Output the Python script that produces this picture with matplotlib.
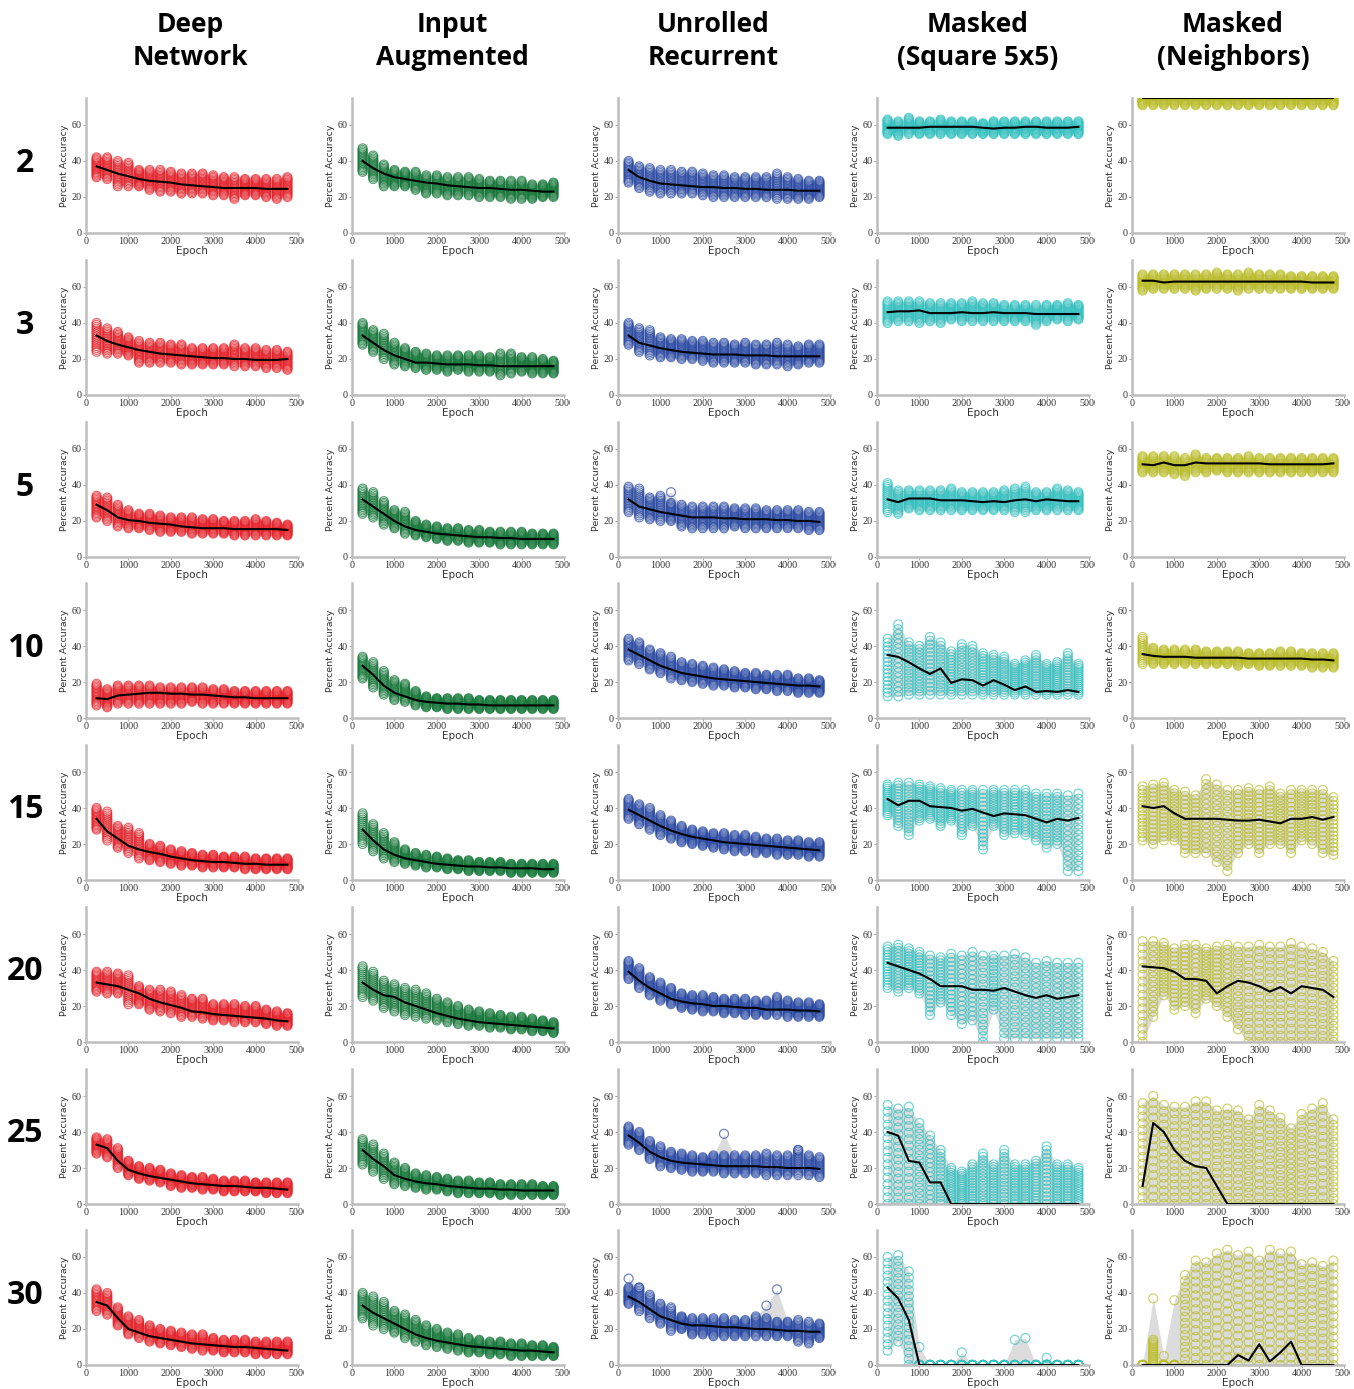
import matplotlib
matplotlib.use("Agg")
import matplotlib.pyplot as plt
from matplotlib.transforms import Bbox, TransformedBbox
import numpy as np

epochs = [250, 500, 750, 1000, 1250, 1500, 1750, 2000, 2250, 2500,
          2750, 3000, 3250, 3500, 3750, 4000, 4250, 4500, 4750]
row_labels = ["2", "3", "5", "10", "15", "20", "25", "30"]
col_titles = ["Deep\nNetwork", "Input\nAugmented", "Unrolled\nRecurrent",
              "Masked\n(Square 5x5)", "Masked\n(Neighbors)"]
col_colors = ["#e8232b", "#16793a", "#2b4ba6", "#33c2c2", "#bcbe27"]
x_ticks = [0, 1000, 2000, 3000, 4000, 5000]
y_ticks = [0, 20, 40, 60]

# ---- Deep Network ----
deep_mean = [
    [37, 35, 33, 31.5, 30, 29, 28.5, 28, 27, 26.5, 26, 25.5, 25, 25, 25, 25, 24.5, 24.5, 24.5],
    [33, 30, 28, 26.5, 25, 24, 23, 22.5, 22, 21.5, 21, 20.5, 20.5, 20, 20, 19.5, 19.5, 19.5, 20],
    [29, 26, 22, 20.5, 20, 19, 18.5, 18, 17, 16.5, 16, 16, 16, 15.5, 15.5, 15.5, 15.5, 15.5, 15],
    [11, 10.5, 12.5, 13, 13.5, 14, 14, 13.5, 13.5, 13, 13, 12.5, 12, 11.5, 11.5, 11, 11, 11, 11],
    [34, 27, 23, 19, 17, 15.5, 14.5, 13, 12, 11, 10.5, 10, 10, 9.5, 9, 9, 8.5, 8.5, 8.5],
    [33, 32, 31, 29, 27, 24, 22, 20.5, 19, 17, 16.5, 15.5, 15, 14.5, 14, 13.5, 13, 12, 11.5],
    [33, 31, 24, 19, 17, 15.5, 14.5, 13.5, 12.5, 11.5, 11, 10.5, 10, 10, 9.5, 9, 9, 8.5, 8],
    [35, 33, 26, 20, 18, 16, 15, 14, 13, 12, 11.5, 11, 10.5, 10, 10, 9.5, 9, 8.5, 8],
]
deep_lo = [
    [31, 30, 26, 26, 26, 24, 23, 23, 22, 22, 22, 21, 21, 19, 21, 21, 20, 19, 20],
    [24, 23, 23, 22, 18, 18, 18, 18, 17, 17, 17, 17, 17, 16, 16, 16, 15, 15, 14],
    [22, 20, 17, 16, 16, 15, 14, 14, 14, 13, 13, 13, 13, 12, 12, 12, 12, 12, 12],
    [7, 6, 8, 8, 8, 8, 8, 8, 8, 9, 8, 8, 8, 8, 8, 8, 8, 8, 8],
    [28, 22, 18, 15, 12, 11, 10, 9, 8, 8, 7, 7, 7, 7, 6, 6, 6, 6, 6],
    [28, 27, 27, 21, 21, 18, 17, 16, 14, 14, 13, 12, 12, 11, 11, 11, 10, 9, 9],
    [28, 26, 20, 16, 14, 13, 12, 10, 9, 9, 8, 8, 7, 7, 7, 7, 6, 6, 6],
    [30, 28, 22, 17, 15, 13, 12, 11, 10, 9, 8, 8, 7, 7, 7, 6, 6, 6, 6],
]
deep_hi = [
    [42, 42, 40, 39, 35, 35, 35, 34, 33, 33, 33, 32, 31, 31, 30, 30, 30, 30, 31],
    [40, 37, 35, 32, 30, 29, 29, 28, 28, 26, 26, 26, 26, 28, 26, 26, 25, 25, 24],
    [34, 33, 29, 26, 24, 24, 23, 22, 22, 22, 21, 21, 20, 20, 20, 21, 20, 19, 18],
    [19, 16, 18, 18, 18, 18, 17, 17, 17, 17, 17, 16, 16, 15, 15, 15, 15, 15, 15],
    [40, 38, 30, 29, 26, 20, 19, 17, 16, 15, 14, 14, 13, 13, 13, 12, 12, 12, 12],
    [39, 39, 38, 37, 31, 29, 29, 28, 26, 24, 24, 21, 21, 21, 20, 20, 18, 17, 16],
    [37, 36, 31, 24, 21, 20, 19, 17, 16, 15, 15, 14, 13, 13, 13, 12, 12, 12, 12],
    [42, 40, 32, 27, 25, 22, 20, 19, 18, 17, 17, 15, 14, 14, 14, 13, 13, 13, 13],
]

# ---- Input Augmented ----
aug_mean = [
    [40, 36, 33, 31, 30, 29, 28, 27.5, 26.5, 26, 25.5, 25, 25, 24.5, 24, 24, 23.5, 23, 23],
    [33, 29, 25, 22, 20, 18, 18, 17.5, 17, 17, 17, 16.5, 16.5, 16, 16, 16, 16, 16, 16],
    [32, 28, 24, 20, 17, 15, 14, 13, 12.5, 12, 11.5, 11, 11, 10.5, 10.5, 10, 10, 10, 10],
    [29, 24, 18, 14, 12, 10, 9, 8.5, 8, 8, 7.5, 7.5, 7, 7, 7, 7, 7, 7, 7],
    [28, 22, 17, 14, 12, 11, 10, 9, 8.5, 8, 7.5, 7.5, 7, 7, 6.5, 6.5, 6.5, 6, 6],
    [33, 29, 26, 25, 22, 20, 18, 16, 14.5, 13, 12, 11, 10.5, 10, 9.5, 9, 8.5, 8, 7.5],
    [30, 25, 21, 16, 14, 12.5, 11.5, 11, 10, 9.5, 9, 8.5, 8.5, 8, 8, 7.5, 7.5, 7.5, 7.5],
    [33, 29, 26, 23, 20, 17, 15, 13.5, 12.5, 11.5, 10.5, 10, 9.5, 9, 8.5, 8, 8, 7.5, 7],
]
aug_lo = [
    [34, 30, 26, 26, 26, 24, 22, 22, 21, 21, 21, 20, 20, 20, 19, 19, 19, 20, 20],
    [28, 24, 20, 17, 16, 15, 14, 14, 13, 14, 13, 13, 13, 11, 12, 13, 12, 12, 12],
    [24, 22, 18, 16, 13, 12, 11, 10, 9, 9, 8, 8, 8, 7, 7, 7, 7, 7, 7],
    [22, 17, 13, 10, 9, 7, 6, 6, 5, 5, 5, 5, 5, 5, 5, 5, 5, 5, 5],
    [20, 16, 12, 10, 9, 8, 7, 7, 6, 6, 5, 5, 5, 5, 4, 4, 4, 4, 4],
    [25, 23, 19, 17, 15, 14, 13, 12, 11, 10, 9, 9, 8, 8, 7, 7, 6, 6, 5],
    [22, 18, 14, 11, 10, 9, 8, 8, 7, 6, 6, 6, 6, 5, 5, 5, 5, 5, 5],
    [26, 22, 20, 18, 15, 13, 11, 10, 9, 8, 7, 7, 6, 6, 5, 5, 5, 5, 5],
]
aug_hi = [
    [47, 43, 38, 35, 34, 34, 32, 32, 31, 31, 31, 30, 29, 29, 29, 29, 27, 27, 28],
    [40, 36, 34, 29, 26, 24, 23, 22, 22, 22, 22, 22, 21, 23, 23, 21, 21, 20, 19],
    [38, 36, 31, 26, 25, 20, 18, 17, 16, 16, 15, 15, 14, 14, 14, 14, 13, 13, 13],
    [34, 31, 26, 21, 19, 15, 12, 11, 11, 11, 11, 10, 10, 10, 10, 10, 10, 10, 10],
    [37, 31, 26, 21, 17, 15, 14, 13, 12, 11, 11, 10, 10, 10, 9, 9, 9, 9, 9],
    [42, 39, 34, 32, 30, 29, 27, 24, 22, 20, 18, 17, 16, 15, 14, 14, 13, 12, 11],
    [36, 33, 28, 23, 20, 17, 16, 15, 14, 13, 13, 12, 12, 11, 11, 11, 11, 10, 10],
    [40, 38, 35, 30, 28, 25, 22, 20, 18, 17, 15, 14, 13, 13, 12, 12, 11, 11, 10],
]

# ---- Unrolled Recurrent ----
rec_mean = [
    [35, 31, 29, 27.5, 27, 26.5, 26, 25.5, 25.5, 25, 25, 24.5, 24.5, 24, 24, 24, 23.5, 23.5, 23.5],
    [33, 29, 27.5, 26, 25, 24, 23.5, 23, 22.5, 22.5, 22.5, 22, 22, 22, 21.5, 21.5, 21.5, 21.5, 21.5],
    [32, 28, 26.5, 25, 24, 23, 22, 22, 22, 21.5, 21.5, 21, 21, 21, 20.5, 20.5, 20, 20, 19.5],
    [38, 35, 32, 29, 27, 25, 24, 23, 22, 21.5, 21, 20.5, 20, 19.5, 19, 18.5, 18, 18, 17.5],
    [39, 36, 33, 30, 27.5, 25.5, 24, 23, 22, 21, 20.5, 20, 19.5, 19, 18.5, 18, 17.5, 17, 16.5],
    [39, 34, 30, 27, 24, 22.5, 21.5, 21, 20, 20, 19.5, 19, 19, 18, 18, 18, 17.5, 17.5, 17],
    [38, 34, 29, 26, 24, 23, 22.5, 22, 21.5, 21, 21, 21, 21, 20.5, 20.5, 20, 20, 20, 19.5],
    [38, 35, 31, 27, 25, 23, 22, 22, 21.5, 21, 21, 20.5, 20, 20, 19.5, 19, 19, 18.5, 18.5],
]
rec_lo = [
    [28, 25, 23, 22, 22, 22, 22, 21, 20, 20, 20, 20, 20, 20, 19, 19, 19, 19, 20],
    [28, 24, 22, 21, 21, 20, 20, 19, 18, 18, 18, 18, 17, 17, 17, 16, 17, 18, 18],
    [25, 22, 21, 20, 20, 17, 16, 16, 16, 16, 17, 16, 16, 16, 16, 16, 16, 15, 15],
    [32, 30, 27, 25, 22, 21, 20, 19, 18, 18, 17, 17, 16, 16, 15, 15, 14, 14, 14],
    [34, 31, 28, 25, 23, 21, 20, 19, 18, 17, 16, 16, 15, 15, 14, 14, 14, 13, 13],
    [35, 30, 26, 23, 21, 19, 18, 17, 17, 16, 16, 15, 15, 15, 15, 14, 14, 14, 14],
    [33, 30, 25, 21, 20, 19, 18, 18, 18, 17, 17, 17, 17, 16, 16, 16, 16, 16, 15],
    [34, 30, 26, 23, 19, 20, 17, 17, 16, 16, 16, 16, 16, 16, 16, 16, 13, 12, 15],
]
rec_hi = [
    [40, 37, 36, 35, 35, 34, 34, 33, 32, 32, 31, 31, 31, 31, 33, 31, 30, 29, 29],
    [40, 37, 36, 32, 31, 31, 30, 30, 29, 29, 28, 29, 28, 28, 29, 28, 27, 28, 28],
    [39, 38, 33, 34, 30, 29, 28, 28, 28, 28, 27, 27, 27, 26, 26, 26, 26, 25, 25],
    [44, 42, 38, 36, 34, 31, 30, 29, 28, 27, 26, 25, 25, 24, 24, 24, 22, 22, 21],
    [45, 42, 40, 36, 33, 30, 28, 27, 26, 26, 25, 25, 24, 23, 23, 22, 22, 21, 21],
    [45, 41, 36, 33, 30, 27, 26, 26, 25, 24, 24, 24, 23, 23, 25, 23, 22, 22, 21],
    [43, 40, 35, 32, 29, 28, 27, 26, 27, 27, 27, 27, 27, 28, 27, 27, 30, 27, 26],
    [43, 43, 39, 34, 32, 27, 26, 26, 26, 26, 25, 25, 27, 26, 24, 24, 25, 24, 23],
]

# ---- Masked (Square 5x5) ----
sq_mean = [
    [58.5, 58.5, 58.5, 58.5, 59, 59, 59, 59, 59, 58.5, 58, 58.5, 58.5, 59, 59, 58.5, 58.5, 58.5, 59],
    [46, 46.5, 46.5, 47, 45.5, 45.5, 45.5, 46, 45.5, 45.5, 46, 45.5, 45.5, 45.5, 45, 45, 45, 45, 45],
    [32, 30.5, 32.5, 32.5, 32.5, 31.5, 31.5, 31.5, 31, 30.5, 31, 30.5, 31.5, 32, 31, 32, 31.5, 31, 31],
    [35, 34, 31, 27.5, 24.5, 27.5, 19.5, 21.5, 21, 18, 21, 18.5, 15.5, 17.5, 14.5, 15, 14.5, 15.5, 14.5],
    [45, 41.5, 44, 44, 41, 40.5, 40, 38.5, 39.5, 37.5, 35.5, 37, 36.5, 36, 34, 32, 34, 33, 34.5],
    [44, 42, 40, 38, 35, 31, 31, 31, 29, 29, 28.5, 30, 28, 26, 24.5, 26, 24, 25, 26],
    [40, 38, 24, 23, 12, 12, 0, 0, 0, 0, 0, 0, 0, 0, 0, 0, 0, 0, 0],
    [43, 37, 25, 0, 0, 0, 0, 0, 0, 0, 0, 0, 0, 0, 0, 0, 0, 0, 0],
]
sq_lo = [
    [55, 54, 55, 55, 55, 55, 55, 55, 55, 55, 55, 55, 55, 55, 55, 55, 55, 55, 55],
    [40, 41, 41, 40, 41, 40, 42, 41, 41, 41, 41, 41, 41, 41, 39, 41, 42, 41, 42],
    [25, 24, 27, 26, 26, 26, 26, 26, 26, 26, 26, 26, 25, 25, 26, 26, 26, 26, 26],
    [12, 12, 13, 13, 13, 13, 13, 13, 13, 13, 13, 13, 13, 13, 13, 13, 13, 13, 13],
    [36, 30, 25, 33, 34, 30, 33, 25, 30, 17, 30, 25, 26, 25, 22, 18, 20, 5, 5],
    [30, 28, 30, 27, 15, 22, 15, 10, 12, 0, 18, 2, 2, 2, 2, 2, 2, 2, 2],
    [0, 0, 0, 0, 0, 0, 0, 0, 0, 0, 0, 0, 0, 0, 0, 0, 0, 0, 0],
    [8, 13, 0, 0, 0, 0, 0, 0, 0, 0, 0, 0, 0, 0, 0, 0, 0, 0, 0],
]
sq_hi = [
    [63, 62, 64, 62, 62, 63, 62, 62, 62, 61, 62, 62, 62, 62, 62, 62, 62, 62, 62],
    [52, 52, 52, 52, 51, 51, 51, 51, 52, 51, 51, 50, 50, 50, 50, 50, 50, 51, 50],
    [41, 37, 37, 37, 37, 37, 38, 36, 36, 36, 36, 37, 38, 39, 36, 36, 38, 37, 36],
    [44, 52, 42, 40, 45, 42, 37, 41, 40, 36, 35, 34, 30, 32, 35, 30, 31, 36, 30],
    [53, 54, 54, 53, 52, 51, 50, 50, 50, 50, 50, 50, 50, 50, 48, 48, 48, 47, 48],
    [53, 54, 52, 50, 48, 47, 49, 48, 50, 48, 48, 48, 49, 47, 44, 45, 44, 44, 44],
    [55, 53, 54, 45, 38, 30, 20, 18, 22, 28, 22, 30, 22, 22, 24, 32, 22, 22, 20],
    [60, 61, 52, 0, 0, 0, 0, 0, 0, 0, 0, 0, 0, 0, 0, 0, 0, 0, 0],
]

# ---- Masked (Neighbors) ----
nb_mean = [
    [75, 75, 75, 75, 75, 75, 75, 75, 75, 75, 75, 75, 75, 75, 75, 75, 75, 75, 75],
    [63.5, 63.5, 62.5, 63, 63, 63, 63, 63, 63, 63, 63, 63, 63, 63, 63, 63, 62.5, 62.5, 62.5],
    [51.5, 51, 52.5, 51, 51, 52.5, 52, 52, 52, 52, 52, 52, 51.5, 51.5, 51.5, 51.5, 51.5, 51.5, 52],
    [35.5, 34.5, 34, 34, 34, 33.5, 33.5, 33.5, 33.5, 33.5, 33, 33, 33, 33, 33, 33, 32.5, 32.5, 32],
    [41, 40, 41, 37, 34, 34, 34, 34, 33.5, 33, 33, 33.5, 32.5, 31.5, 34, 34, 35, 33.5, 35],
    [42, 41.5, 41, 39, 35, 35, 34, 27, 31, 34, 33, 31, 28, 30.5, 27, 31, 30, 29, 25],
    [10, 45, 40, 30, 24, 21, 20, 10, 0, 0, 0, 0, 0, 0, 0, 0, 0, 0, 0],
    [0, 0, 0, 0, 0, 0, 0, 0, 0, 5.5, 2.5, 11.5, 2, 7, 13, 0, 0, 0, 0],
]
nb_lo = [
    [71, 71, 71, 71, 71, 71, 71, 71, 71, 71, 71, 71, 71, 71, 71, 71, 71, 71, 71],
    [58, 59, 59, 59, 59, 58, 59, 59, 59, 58, 59, 59, 59, 59, 59, 59, 59, 59, 59],
    [47, 47, 47, 46, 45, 47, 47, 48, 47, 47, 47, 47, 47, 47, 47, 47, 47, 47, 47],
    [30, 30, 30, 30, 30, 30, 30, 30, 30, 29, 30, 29, 29, 29, 29, 29, 28, 28, 28],
    [22, 20, 22, 22, 15, 15, 15, 10, 5, 15, 20, 15, 20, 20, 15, 22, 20, 15, 14],
    [0, 14, 26, 18, 20, 16, 24, 20, 14, 7, 0, 0, 0, 0, 0, 0, 0, 0, 0],
    [0, 0, 0, 0, 0, 0, 0, 0, 0, 0, 0, 0, 0, 0, 0, 0, 0, 0, 0],
    [0, 0, 0, 0, 0, 0, 0, 0, 0, 0, 0, 0, 0, 0, 0, 0, 0, 0, 0],
]
nb_hi = [
    [78, 78, 78, 78, 78, 78, 78, 78, 78, 78, 78, 78, 78, 78, 78, 78, 78, 78, 78],
    [67, 67, 67, 67, 67, 67, 67, 68, 67, 67, 68, 67, 67, 67, 66, 66, 66, 66, 66],
    [56, 56, 56, 56, 55, 57, 55, 55, 55, 55, 56, 55, 55, 55, 55, 55, 55, 55, 55],
    [45, 39, 38, 38, 38, 38, 37, 37, 37, 37, 36, 36, 36, 37, 37, 36, 36, 36, 36],
    [52, 53, 54, 50, 49, 47, 56, 53, 50, 50, 51, 50, 52, 48, 50, 50, 50, 50, 46],
    [56, 56, 55, 52, 54, 54, 52, 53, 54, 53, 53, 54, 53, 53, 55, 53, 52, 50, 45],
    [56, 60, 55, 54, 54, 57, 57, 52, 53, 52, 47, 55, 52, 48, 42, 50, 53, 56, 47],
    [0, 14, 0, 0, 50, 58, 57, 62, 64, 61, 63, 58, 64, 62, 63, 56, 57, 55, 58],
]

# single stray runs sticking out above the main spread: (column, row, epoch, value)
outliers = [
    (2, 2, 1250, 36),
    (2, 6, 2500, 39), (2, 6, 4250, 30),
    (2, 7, 250, 48), (2, 7, 500, 43), (2, 7, 3500, 33), (2, 7, 3750, 42),
    (3, 7, 1000, 10), (3, 7, 2000, 7), (3, 7, 3250, 14), (3, 7, 3500, 15), (3, 7, 4000, 4),
    (4, 7, 500, 37), (4, 7, 750, 5), (4, 7, 1000, 36),
]

col_means = [deep_mean, aug_mean, rec_mean, sq_mean, nb_mean]
col_los = [deep_lo, aug_lo, rec_lo, sq_lo, nb_lo]
col_his = [deep_hi, aug_hi, rec_hi, sq_hi, nb_hi]

W, H = 1354, 1389
fig = plt.figure(figsize=(W / 100, H / 100), dpi=100)

ax_left = [86, 352, 618, 877, 1132]   # px
ax_w = 212
ax_zero = [233, 395, 557, 718, 880, 1042, 1204, 1365]   # px from top
ax_h = 135
col_centers = [190, 452, 713, 978, 1233]

for c in range(5):
    fig.text(col_centers[c] / W, 1 - 41 / H, col_titles[c], ha="center", va="center",
             fontsize=19, fontweight="bold", family="Open Sans", linespacing=1.3)

for r in range(8):
    fig.text(25 / W, 1 - (ax_zero[r] - 70) / H, row_labels[r], ha="center", va="center",
             fontsize=23, fontweight="bold", family="Open Sans")
    for c in range(5):
        ax = fig.add_axes([ax_left[c] / W, 1 - ax_zero[r] / H, ax_w / W, ax_h / H])
        x = np.array(epochs)
        mean = np.array(col_means[c][r])
        lo = np.array(col_los[c][r])
        hi = np.array(col_his[c][r], dtype=float)
        odd = [(e, v) for (cc, rr, e, v) in outliers if cc == c and rr == r]
        band_hi = hi.copy()
        for e, v in odd:
            i = epochs.index(e)
            band_hi[i] = max(band_hi[i], v)
        ax.fill_between(x, lo, band_hi, color="#dcdcdc", lw=0, zorder=1)
        xs = np.repeat(x, 16)
        ys = np.concatenate([np.linspace(a, b, 16) for a, b in zip(lo, hi)])
        if odd:
            xs = np.concatenate([xs, [e for e, v in odd]])
            ys = np.concatenate([ys, [v for e, v in odd]])
        ax.scatter(xs, ys, s=42, facecolors="none", edgecolors=col_colors[c],
                   linewidths=0.85, alpha=0.7, zorder=2)
        ax.plot(x, mean, color="black", lw=1.5, zorder=3)

        ax.set_xlim(0, 5000)
        ax.set_ylim(0, 75)
        ax.set_xticks(x_ticks)
        ax.set_yticks(y_ticks)
        for s in ["top", "right"]:
            ax.spines[s].set_visible(False)
        for s in ["left", "bottom"]:
            ax.spines[s].set_color("#bdbdbd")
            ax.spines[s].set_linewidth(1.8)
        ax.tick_params(length=2, width=0.6, color="#999999", pad=1,
                       labelsize=7.3, labelcolor="#333333")
        for lbl in ax.get_xticklabels() + ax.get_yticklabels():
            lbl.set_family("Liberation Serif")
        ax.set_xlabel("Epoch", fontsize=7.5, labelpad=0, family="DejaVu Sans", color="#333333")
        ax.set_ylabel("Percent Accuracy", fontsize=6.8, labelpad=2, family="DejaVu Sans",
                      color="#333333")
        clip = TransformedBbox(Bbox([[0, 0], [(ax_left[c] + ax_w + 6) / W, 1]]),
                               fig.transFigure)
        for lbl in ax.get_xticklabels():
            lbl.set_clip_box(clip)
            lbl.set_clip_on(True)

fig.savefig("out.png", dpi=100)
